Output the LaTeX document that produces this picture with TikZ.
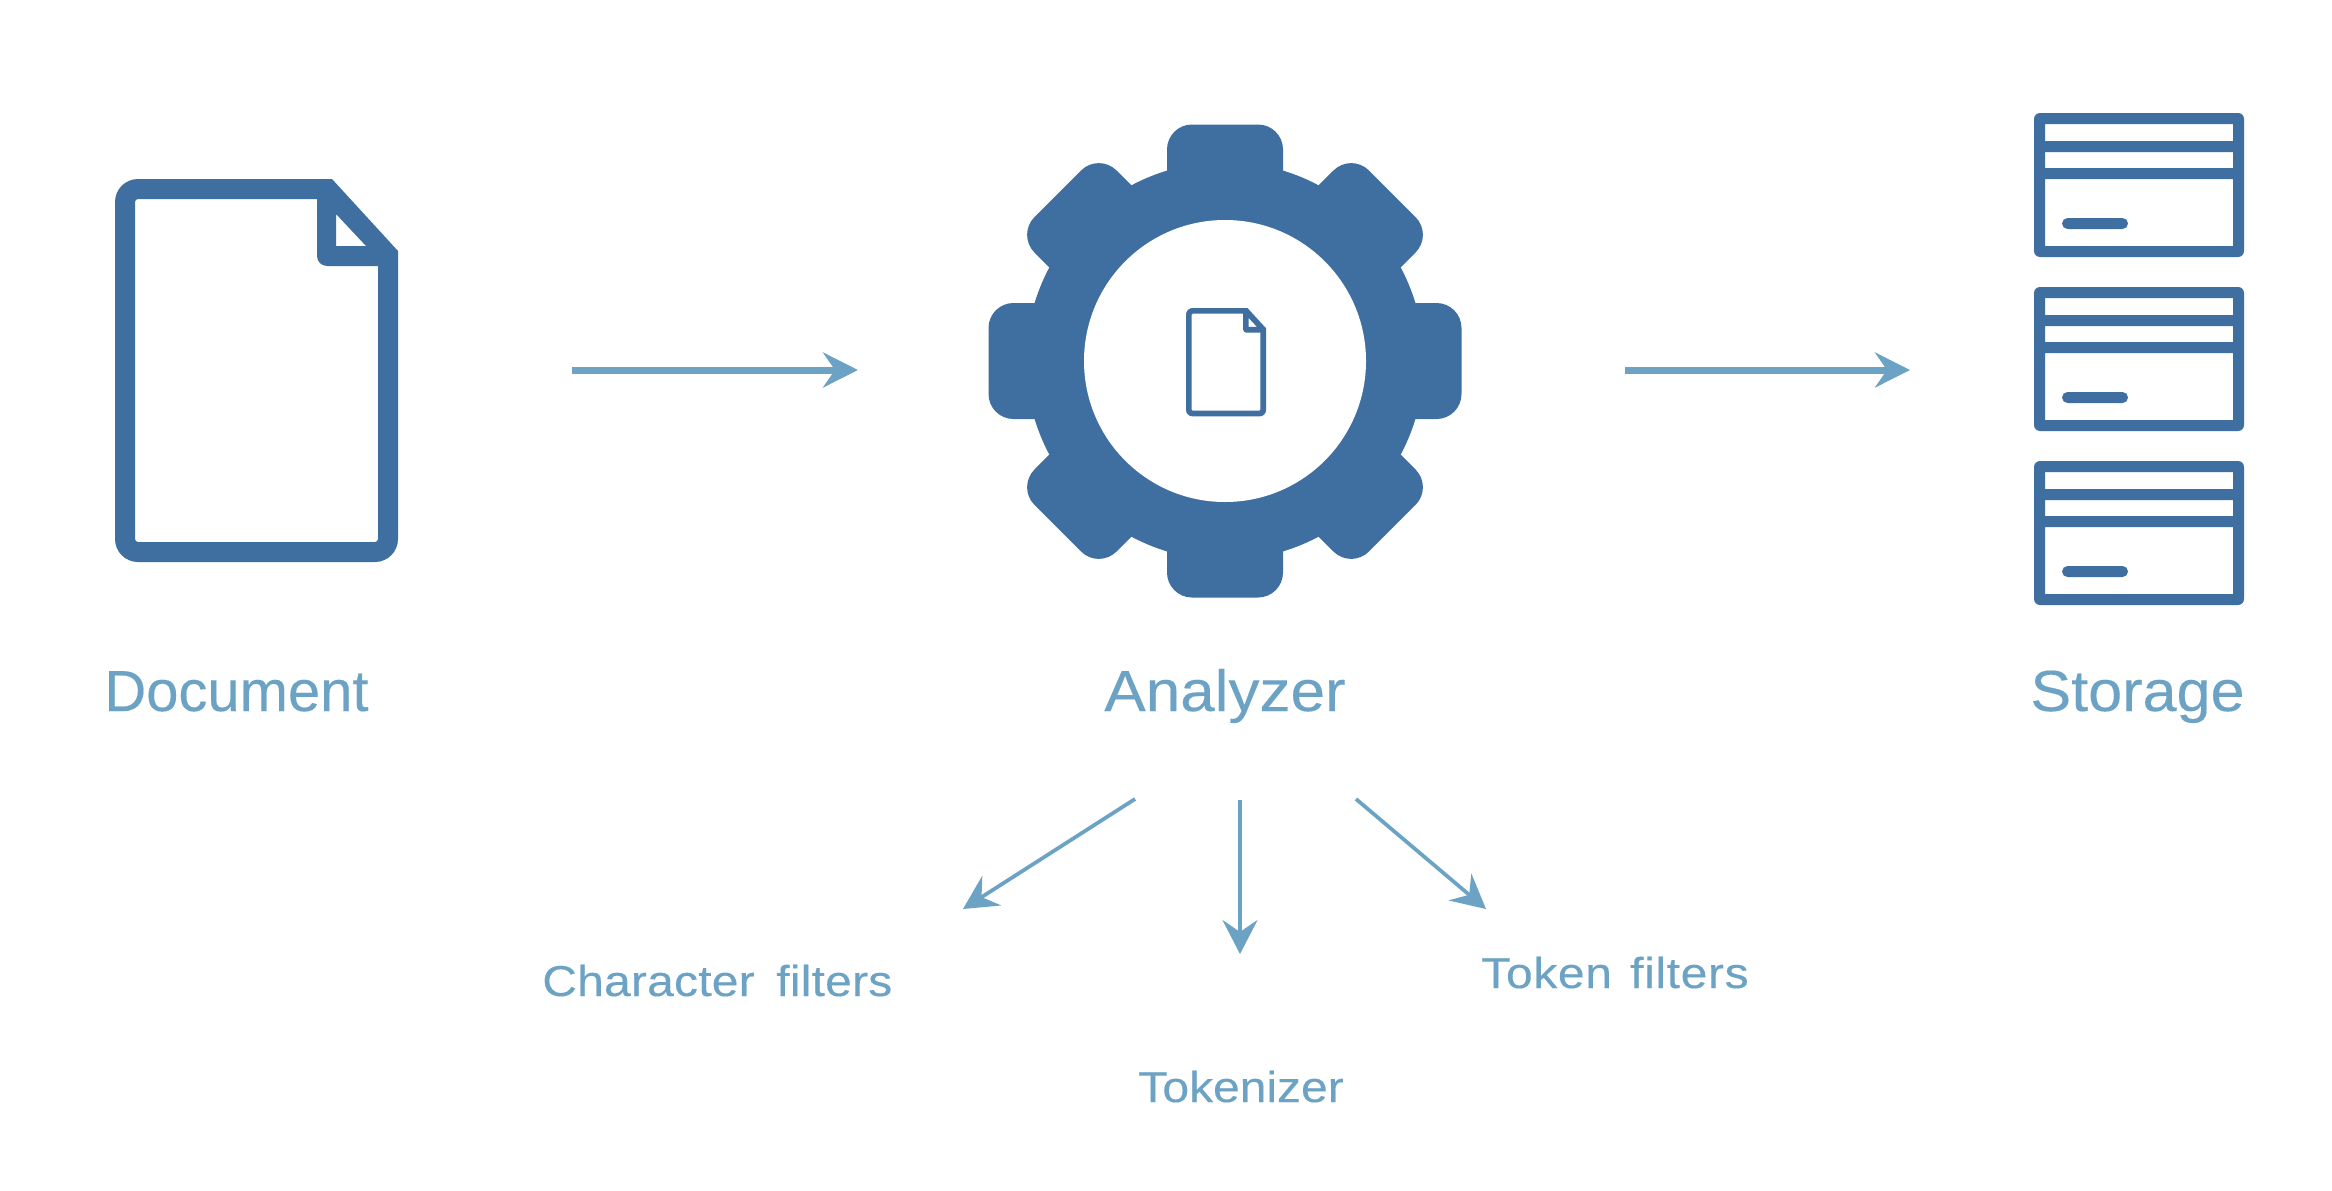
\documentclass[tikz,border=0pt]{standalone}
\usepackage{fontspec}
\usetikzlibrary{arrows.meta}
\setmainfont{Liberation Sans}
\newfontfamily\docfont[FakeBold=0.25]{Liberation Sans}
\newfontfamily\spA[FakeStretch=1.07,FakeBold=0.25]{Liberation Sans}
\newfontfamily\spB[FakeStretch=1.055,FakeBold=0.25]{Liberation Sans}
\newfontfamily\spC[FakeStretch=1.11,WordSpace=1.6,LetterSpace=0.5,FakeBold=0.25]{Liberation Sans}
\newfontfamily\spD[FakeStretch=1.11,FakeBold=0.25]{Liberation Sans}
\newfontfamily\spE[FakeStretch=1.11,WordSpace=1.3,LetterSpace=1.5,FakeBold=0.25]{Liberation Sans}
\definecolor{iconblue}{HTML}{3F6EA1}
\definecolor{linkblue}{HTML}{6CA3C5}
\tikzset{
  bigflow/.style={draw=linkblue,line width=0.14cm,-{Stealth[length=0.7cm,width=0.7cm,inset=0.24cm]}},
  thinflow/.style={draw=linkblue,line width=0.075cm,-{Stealth[length=0.68cm,width=0.7cm,inset=0.24cm]}},
  biglabel/.style={anchor=base west,inner sep=0pt,text=linkblue,font=\fontsize{33}{40}\selectfont},
  smalllabel/.style={anchor=base west,inner sep=0pt,text=linkblue,font=\fontsize{24.6}{30}\selectfont},
}
% #1 outer radius, #2 inner radius, #3 fold radius
\newcommand{\docicon}[3]{%
  \fill[iconblue,even odd rule]
    (115,400) [rounded corners=#1] -- (115,179) [sharp corners] -- (332,179) -- (398,251) [rounded corners=#1] -- (398,562) -- (115,562) -- cycle
    (135,400) [rounded corners=#2] -- (135,199) [sharp corners] -- (317,199) [rounded corners=#3] -- (317,266) [sharp corners] -- (378,266) [rounded corners=#2] -- (378,542) -- (135,542) -- cycle
    [sharp corners] (336,214) -- (336,246) -- (366,246) -- cycle;
}
\begin{document}
\begin{tikzpicture}[x=0.02cm,y=-0.02cm]
\useasboundingbox (0,0) rectangle (2332,1190);
\fill[white] (0,0) rectangle (2332,1190);

% document icon
\docicon{0.46cm}{0.06cm}{0.2cm}

% gear
\fill[iconblue] (1225,361) circle[radius=199];
\foreach \a in {0,45,...,315}{
  \fill[iconblue,rotate around={\a:(1225,361)},rounded corners=0.5cm] (1167,124.5) rectangle (1283,361);
}
\fill[white] (1225,361) circle[radius=141];
\begin{scope}[shift={(1186,308)},scale=0.283,shift={(-115,-179)}]
  \docicon{0.13cm}{0.02cm}{0.06cm}
\end{scope}

% storage icons
\foreach \dy in {0,174,348}{
  \begin{scope}[yshift=-\dy*0.02cm]
    \fill[iconblue,even odd rule]
      [rounded corners=0.12cm] (2034,113) rectangle (2244,257)
      [sharp corners] (2045,124) rectangle (2233,141)
      (2045,152) rectangle (2233,168)
      (2045,179) rectangle (2233,246);
    \fill[iconblue,rounded corners=0.11cm] (2062,218) rectangle (2128,229);
  \end{scope}
}

% labels
\node[biglabel] (doclabel) at (104,711) {\docfont Document};
\node[biglabel] (analabel) at (1104,711) {\spA Analyzer};
\node[biglabel] (stolabel) at (2030,711) {\spB Storage};
\node[smalllabel] (charlabel) at (542,996) {\spC Character filters};
\node[smalllabel] (toklabel) at (1138,1102) {\spD Tokenizer};
\node[smalllabel] (tflabel) at (1481,988) {\spE Token filters};

% connectors
\coordinate (docout) at (572,370);
\coordinate (anain) at (858,370);
\coordinate (anaout) at (1625,370);
\coordinate (stoin) at (1910,370);
\coordinate (c1a) at (1135,799);
\coordinate (c1b) at (963,909);
\coordinate (c2a) at (1240,800);
\coordinate (c2b) at (1240,954);
\coordinate (c3a) at (1356,799);
\coordinate (c3b) at (1486,909);
\draw[bigflow] (docout) -- (anain);
\draw[bigflow] (anaout) -- (stoin);
\draw[thinflow] (c1a) -- (c1b);
\draw[thinflow] (c2a) -- (c2b);
\draw[thinflow] (c3a) -- (c3b);
\end{tikzpicture}
\end{document}
